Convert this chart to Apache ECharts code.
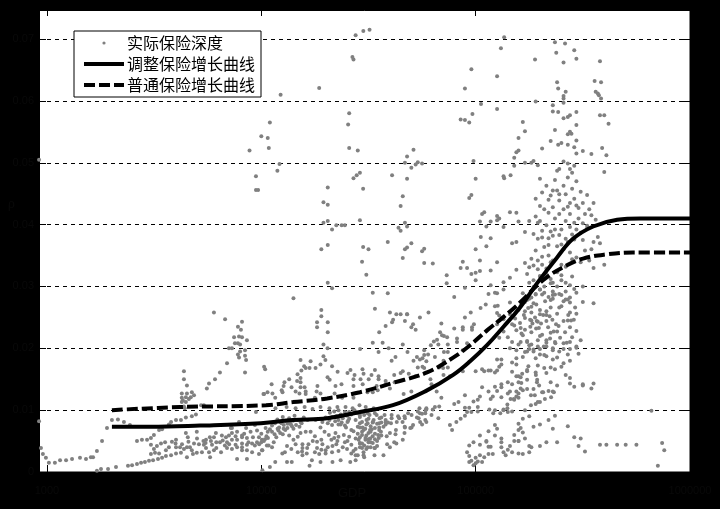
<!DOCTYPE html>
<html><head><meta charset="utf-8">
<script src="https://cdn.jsdelivr.net/npm/echarts@6/dist/echarts.min.js"></script>
<style>html,body{margin:0;padding:0;background:#000}#c{width:720px;height:509px}</style>
</head><body><div id="c"></div>
<script>
// All points: [log10(GDP), depth in thousandths]
const leftTail=[[2.963,8.2],[2.972,3.9],[2.981,2.9],[2.995,2.3],[3.009,1.5],[3.037,1.5],[3.061,1.9],[3.089,1.9],[3.117,2.1],[3.154,2.3],[3.182,2.1],[3.205,2.4],[3.215,2.4],[3.233,3.4],[3.257,5],[3.28,7.1],[3.303,8.4],[3.331,8.5],[3.359,8.1],[3.387,7.6],[3.233,.2],[3.252,.5],[3.285,.5],[3.322,.8],[3.378,1],[3.397,1.1],[3.42,1.3],[3.439,1.5],[3.457,1.6],[3.476,1.8],[3.495,1.9],[3.518,2.1],[3.537,2.3],[3.555,2.6],[3.579,2.7],[2.963,50.5]];
const leftCloud=[[3.779,25.8],[3.831,24.7],[3.891,23.5],[3.91,24.3],[3.905,23],[3.873,21.8],[3.896,21.9],[3.91,21.8],[3.933,21.3],[3.877,20.8],[3.891,20.8],[3.901,20.6],[3.849,20],[3.863,20],[3.901,19.5],[3.924,19.7],[3.891,19],[3.896,18.5],[3.924,18.8],[3.929,18.1],[3.84,17.6],[3.807,16.1],[3.924,16.1],[3.784,15],[3.756,14.3],[3.746,13.5],[3.732,10.8],[4.018,16.6],[4.013,12.6],[3.975,9.7],
[3.639,16.3],[3.639,15],[3.653,14],[3.629,12.7],[3.653,12.7],[3.676,12.9],[3.686,12.4],[3.671,12.1],[3.648,12.1],[3.629,12],[3.662,11.8],[3.634,11.6],[3.629,11.3],[3.648,11.3],[3.639,10.6],[3.643,10.3],[3.719,10.8],[3.695,9.3],[3.676,9],[3.648,8.8],[3.625,8.4],[3.602,8.4],[3.579,8.1],[3.569,7.7],[3.537,6.9],[3.523,6.8],[3.648,6.3],[3.657,5.6],[3.699,6.5],[3.42,5],[3.443,5.2],[3.467,5.2],[3.485,5.5],[3.499,6],[3.485,4.4],[3.485,2.9],
[3.532,4.6],[3.551,4.8],[3.513,4.2],[3.499,3.7],[3.555,3.5],[3.504,3.1],[3.523,3],[3.569,4],[3.583,4.9],[3.602,5.2],[3.602,4],[3.621,4],[3.639,3.7],[3.653,4],[3.667,4],[3.686,4.6],[3.709,4.5],[3.732,4.4],[3.676,3.5],[3.681,2.9],[3.653,2.4],[3.699,3.1],[3.723,3.2],[3.742,3.9],[3.625,3.1],[3.602,3],[3.742,5.2],[3.765,5],[3.779,5.6],[3.788,6.3],[3.816,5.9],[3.835,5.6],[3.849,5.9],[3.863,6.3],[3.858,7.1],[3.896,8.1],[3.929,7.1],[3.97,7.6],[3.863,7.1],[3.887,6.5],[3.91,5.9],[3.77,4.4],[3.807,4.8],[3.84,4.8],[3.863,5.2],[3.887,5.2],[3.91,5.6],[3.933,5.5],[3.961,5.6],[3.989,5.6],[4.017,5.3],[3.756,3.2],[3.779,3.5],[3.812,3.2],[3.84,3.9],[3.863,3.7],[3.887,4],[3.91,4],[3.933,4.4],[3.957,4.6],[3.98,4.8],[4.003,5.2],[4.031,5.5],[3.91,3.5],[3.933,3.5],[3.957,3.2],[3.989,2.9],[4.003,3.5],[4.026,4.3],[3.887,2.1],[3.933,2.1],[3.761,2.4]];
const lowerBand=[[4.29,20.6],[4.309,20],[4.29,18.7],[4.299,18.1],[4.52,20.9],[4.566,20.9],[4.66,20.6],[4.594,20],[4.682,19.4],[4.547,19.4],[4.726,18.6],[4.752,18.4],[4.626,18.6],[4.608,18],[4.461,19.9],[4.183,18.1],[4.23,17.9],[4.276,17.4],[4.33,17.1],[4.2,17.1],[4.225,16.8],[4.253,16.8],[4.472,16.6],[4.416,16.5],[4.53,16.5],[4.688,15.9],[4.752,17],[4.848,16.8],[4.65,16],[4.66,16.3],[4.013,17],[4.207,16.8],[4.187,16.4],[4.169,15.8],[4.356,16.2],[4.402,16],[4.435,15.7],[4.477,15.9],[4.514,15.7],[4.547,15.5],[4.62,15.7],[4.72,15.5],[4.789,15],[4.85,15.7],
[4.309,15.3],[4.319,14.9],[4.183,15.2],[4.108,14.5],[4.13,15],[4.167,14.7],[4.183,14.5],[4.048,14.2],[4.374,14.2],[4.43,15],[4.463,15],[4.501,15],[4.547,15],[4.58,14.7],[4.622,14.5],[4.43,13.9],[4.346,13.9],[4.473,14.2],[4.538,13.9],[4.58,14.2],[4.104,13.9],[4.141,13.7],[4.183,13.7],[4.202,13.7],[4.262,13.9],[4.095,13.2],[4.16,13],[4.207,13],[4.258,13],[4.01,12.6],[4.029,12.9],[4.052,12.7],[4.099,12.9],[4.065,12],[4.178,12.7],[4.207,12.6],[4.25,12],[4.276,12.7],[4.342,12.7],[4.377,12],[4.43,12],[4.495,12.9],[4.52,12.9],[4.543,13.2],[4.6,13.5],[4.664,12.6],[4.7,13],[4.794,14.2],[4.818,13],[4.84,12],[4.738,10.3],[4.77,10.3],[4.81,10.5],
[4.066,10.3],[4.118,10.5],[4.16,10.3],[4.202,10.5],[4.239,10.2],[4.276,10.5],[4.318,10.3],[4.355,10.5],[4.393,10.5],[4.426,10.3],[4.458,10.8],[4.487,10.5],[4.524,10.3],[4.41,9.7],[4.435,10],[4.449,9.5],[4.472,9.7],[4.505,9.2],[4.538,9.2],[4.575,9.2],[4.608,9.2],[4.643,8.7],[4.668,9],[4.659,8.1],[4.701,9.2],[4.734,8.7],[4.766,10],[4.794,9.2],[4.826,8.7],[4.608,8.7],[4.632,8.1],[4.58,8.4],[4.552,8.7],[4.524,8.4],[4.491,8.4],[4.44,8.4],[4.402,8.1],[4.36,8.4],[4.318,8.4],[4.285,8.1],[4.253,8.4],[4.216,8.4],[4.183,8.1],[4.134,7.9],[4.095,7.9],[4.123,7.8],[4.143,7.4],[4.15,7],[4.104,7],[4.076,7],[4.05,6.5],[4.112,6.8],[4.088,6.3],[4.062,6.1],[4.024,5.8],[4.0,4.8],[4.058,4.8],[4.034,4.3],[4.05,4],[4.005,3.5],[4.098,3.0],
[4.207,6.5],[4.183,6.3],[4.276,7.2],[4.295,6.5],[4.37,7.7],[4.395,7.2],[4.346,6.3],[4.42,6.8],[4.45,7.3],[4.473,7.2],[4.507,6.8],[4.558,6.5],[4.6,6.3],[4.628,6.8],[4.669,7.3],[4.701,7.2],[4.668,6.3],[4.626,6.1],[4.585,5.8],[4.548,5.5],[4.519,5.8],[4.486,5.5],[4.454,5.2],[4.402,5],[4.355,5],[4.327,5.2],[4.332,4.2],[4.285,4.5],[4.26,3.9],[4.192,4.5],[4.214,3.9],[4.192,3.9],[4.212,3],[4.192,2.7],[4.27,2.9],[4.3,3],[4.33,3.2],[4.36,3.4],[4.4,3.7],[4.43,3.4],[4.477,3.2],[4.528,3.9],[4.587,4.5],[4.62,4.8],[4.6,4],[4.57,2.7],[4.528,2.7],[4.48,2.4],[4.44,1.9],[4.415,1.6],[4.37,1.9],[4.332,1.6],[4.276,1.6],[4.236,1.9],[4.225,1],[4.142,1.6],[4.12,1.6],[4.065,1.6],[4.04,.8],[4.005,.3],[4.508,5.4],[4.54,5],[4.5,4.8],[4.47,4.6],[4.39,4.8],[4.31,4],[4.3,3.5],[4.63,4.6],[4.66,5.2]];
const lowerDense=[[4.064,7.9],[4.075,8.5],[4.083,7.2],[4.09,8],[4.1,8.9],[4.105,7.6],[4.115,8.2],[4.122,7.1],[4.13,8.7],[4.138,7.7],[4.148,8.3],[4.155,9.1],[4.162,7.6],[4.17,8.4],[4.178,7.3],[4.188,7.9],[4.198,8.8],[4.08,6.7],[4.07,5.6],[4.1,6.1],[4.04,6.9],[4.03,6.5],[4.02,7.1],[4.05,7.5],[4.012,5],
[4.32,9.6],[4.33,8.9],[4.34,9.8],[4.35,9],[4.36,10],[4.37,9.3],[4.38,8.7],[4.39,9.7],[4.4,9.1],[4.41,8.6],[4.42,9.3],[4.345,8.2],[4.36,7.7],[4.375,8],[4.39,7.5],[4.405,8.3],[4.33,7.6],[4.31,7.9],[4.3,8.8],
[4.46,8.9],[4.47,8.1],[4.48,9.2],[4.49,7.7],[4.5,8.6],[4.51,7.4],[4.52,8],[4.53,7.1],[4.54,7.8],[4.55,7.2],[4.56,8],[4.57,7.3],[4.58,7.7],[4.47,6.5],[4.485,7],[4.5,6.3],[4.515,6.9],[4.53,6.2],[4.545,6],[4.56,5.9],[4.49,5.9],[4.47,6],[4.46,7.2],[4.45,6.2],[4.43,6.6],[4.44,5.4],[4.46,4.7],[4.48,4.3],[4.5,5.3],[4.52,4.7],[4.54,4.2],[4.51,4],[4.53,5.3],[4.49,3.7],[4.46,4],[4.44,3.7],[4.42,4.4],[4.41,5.7],[4.385,6],[4.36,5.7],[4.34,5.5],[4.315,6],[4.28,5.2],[4.25,5.8],[4.23,6.5],[4.24,5],[4.26,4.9],[4.22,4.5],[4.25,3.2],[4.28,3.6],[4.35,4.5],[4.38,4],[4.42,3],[4.45,2.7],[4.17,5.7],[4.15,5.2],[4.13,5.9],[4.16,4.5],[4.14,3.7],[4.12,4.2],[4.11,3.2],[4.17,3.2],[4.19,3.3],
[3.6,4.6],[3.63,4.5],[3.66,4.9],[3.7,5.4],[3.73,5],[3.76,5.6],[3.79,4.8],[3.82,5.1],[3.85,4.5],[3.88,5.8],[3.92,6.2],[3.95,6.5],[3.98,6.7],[4,6.2],[3.94,4.8],[3.97,4.3],[3.99,4.5],[3.91,4.6],[3.88,4.4],[3.83,4.3],[3.79,3.9],[3.74,4.7]];
const rightEdge=[[4.46,9.2],[4.496,9.5],[4.53,9.5],[4.56,8.8],[4.591,8],[4.605,7.9],[4.638,9],[4.67,8.7],[4.685,9.5],[4.726,8.8],[4.765,9.5],[4.741,8.1],[4.765,8.4],[4.67,7.2],[4.695,7.1],[4.708,7.6],[4.46,7.9],[4.496,7.9],[4.52,8.1],[4.55,7.9],[4.58,8.1],[4.477,6.8],[4.51,6.5],[4.55,6.8],[4.46,5.6],[4.486,5.2],[4.51,4.8],[4.46,4.6],[4.496,4],[4.47,3.9],[4.53,3.9],[4.44,2.7],[4.477,2.7]];
const midBand=[[4.68,25.5],[4.708,23.9],[4.95,25],[4.977,25.8],[5.023,26.5],[5.047,27.1],[5.09,26.8],[5.103,26.9],[4.94,23.4],[4.992,23.9],[4.983,23.4],[4.834,22.6],[4.843,22.1],[4.852,22],[4.9,23.2],[4.94,23],[4.983,23],[4.913,21.6],[4.82,21.4],[4.867,21.8],[4.805,21.1],[4.791,20.5],[4.76,19.7],[4.826,20.6],[4.87,20.6],[4.913,21],[4.96,20.8],[4.94,19.7],[4.87,19.4],[4.852,19.4],[4.76,18.9],[4.778,19],[4.81,18.6],[4.85,18],[4.71,18],[4.74,18.2],[4.77,17.9],[4.73,16.9],[4.76,16.8],[4.83,16.9],[4.87,16.9],[4.88,15.5],[4.94,16.3],[5,16.3],[5.03,16.6],[5.06,16.4],[5.09,16.1],[5.04,16.3],[5.07,16.4],[5.1,16.4],[5.12,17.4],[5.1,18.2],[5.17,17.7],[5.12,18.2],[5.19,17.4],[5.24,16.5],[5.24,14.9],[5.286,14.5],[5.2,15.5],[5.12,14.2],[5.15,14.5],[5.17,16.2],[5.11,17],
[5.2,14.5],[5.17,14.2],[5.16,13],[5.09,13.8],[5.03,13.7],[5.12,13.7],[5.06,13],[5.1,13.1],[5.15,12.7],[5.02,12.2],[5.01,11.7],[4.95,12.4],[5.08,12.2],[5.12,12.1],[5.19,13],[5.2,12],[5.22,13.2],[5.24,13.4],[5.27,13.4],[5.31,12.9],[5.34,13.1],[5.33,16],[5.35,14.5],[5.36,13],[5.24,16.3],[5.28,16.1],[5.19,15.5],[5.2,12.7],[5.18,11.7],[5.07,11.8],[4.99,11.4],[5.01,10.5],[4.97,10.4],[4.95,10.4],[4.92,11.3],[4.9,11],[4.83,10.6],[4.8,10.1],[4.77,10.1],[4.73,9.8],[4.75,9.4],[4.77,8.1],[4.75,7.7],[4.74,9.5],[5.17,9.8],[5.15,9.7],[5.09,10],[5.13,10.1],[5.23,10],[5.25,9],[5.22,8.6]];
const rightLower=[[5.246,17.1],[5.217,15.9],[5.21,15.3],[5.213,14.4],[5.21,13.5],[5.19,12.2],[5.178,11.8],[5.163,11.8],[5.148,10.9],[5.258,12.4],[5.276,12.4],[5.29,11.3],[5.3,11.3],[5.323,11.8],[5.352,12.1],[5.365,12.9],[5.38,14],[5.315,12.9],[5.296,14],[5.287,14.9],[5.281,15.7],[5.42,15.7],[5.44,15.2],[5.5,14],[5.55,14.3],[5.54,13.5],[5.258,10.8],[5.28,11],[5.148,10.3],[5.13,10],[5.115,9.5],[5.064,10.1],[5.082,9.5],[5.01,9.8],[4.98,9.7],[4.96,9.7],[4.95,9.1],[4.93,8.6],[4.91,8.1],[4.88,7.6],[4.89,6.8],[5.09,7.6],[5.1,7],[5.06,6.6],[5.05,5],[5.05,4.9],[5.07,4.1],[5.08,2.9],[5.14,2.7],[5.13,3.2],[5.15,3.6],[5.17,3.2],[5.2,3],[5.22,2.9],[5.25,3.2],[5.26,4],[5.3,4.2],[5.38,4.8],[5.33,4.8],[5.2,5],[5.12,4],[5.2,7.8],[5.21,7.1],[5.2,6.8],[5.22,6.4],[5.18,6],[5.18,5],[5.2,5],[5.23,5.4],[5.27,7.3],[5.3,7.7],[5.34,8.4],[5.37,9.1],[5.36,7],[5.43,7.4],[5.46,5.6],[5.49,5.4],[5.48,4.2],[5.51,3.3],[5.58,4.4],[5.61,4.4],[5.66,4.4],[5.7,4.4],[5.75,4.4],[5.82,9.9],[5.87,4.7],[5.88,3.5],[5.85,1],[5.44,14.3],[5.46,13.8],[5.5,14.2],
[4.96,3.2],[4.97,4.3],[4.99,4.8],[5.02,5.9],[5.02,4.4],[5.06,4.1],[5.09,5.9],[5.12,5.4],[5.12,4.8],[5.16,4.2],[5.06,2.9],[4.97,2.6],[4.98,1.8],[5.02,2.7],[5,2.3],[5.01,1.7],[5,1.4],[4.97,1.6],[5.03,1.6],[5.04,2.4],[4.99,1.1],[5.25,4.2]];
const centerDense=[[5.16,25.5],[5.17,23.9],[5.184,24.8],[5.19,22.9],[5.2,26.2],[5.207,24.1],[5.214,22.4],[5.225,25.4],[5.23,23],[5.24,21.2],[5.245,26.5],[5.254,24.6],[5.26,22.6],[5.27,27.3],[5.277,25],[5.282,23.2],[5.29,21.3],[5.3,26.2],[5.305,24],[5.31,22.2],[5.318,20.3],[5.324,27.6],[5.33,25.4],[5.338,23.4],[5.347,21.6],[5.35,26.6],[5.358,24.6],[5.364,22.7],[5.372,20.8],[5.38,25.6],[5.387,23.6],[5.394,21.7],[5.4,26.8],[5.41,24.4],[5.417,22.6],[5.425,20.9],[5.432,25.4],[5.44,23.4],[5.45,21.8],[5.458,24.6],[5.464,26.6],[5.47,22.8],[5.28,28.7],[5.3,29.5],[5.32,29],[5.34,28.3],[5.36,28],[5.39,28.8],[5.41,27.6],[5.43,27.9],[5.26,26.7],[5.25,28],[5.23,27.5],[5.22,28.9],[5.265,24],[5.295,23.3],[5.33,24.4],[5.375,23.9],[5.345,25.2],[5.315,25.4],[5.285,24.4],[5.255,23.5],[5.23,24.9],[5.35,22.5],[5.38,22.7],[5.33,20.9],[5.36,20],[5.3,19.9],[5.27,19.8],[5.24,19.5],[5.41,19.9],[5.44,19.9],[5.47,20.1],[5.2,20.6],[5.17,21],[5.15,21.8],[5.13,22.7],[5.11,21.7],[5.1,25.7],[5.16,20],[5.19,19.7],[5.3,31.6],[5.27,31],[5.33,32],[5.36,30.6],[5.24,32],[5.4,31.8],[5.42,30.6],[5.29,32.8],[5.31,33.5],[5.26,34.5],[5.23,33.8],[5.19,32.7],[5.16,31.4],[5.13,30.7]];
const upperDense=[[5.33,46.3],[5.35,44.7],[5.37,47.2],[5.38,45.5],[5.39,43.9],[5.41,46.3],[5.42,44.9],[5.43,47.6],[5.44,43.5],[5.45,45.8],[5.46,44.2],[5.47,47],[5.48,42.7],[5.49,45.3],[5.5,43.5],[5.52,44.8],[5.53,42.5],[5.54,41.5],[5.55,43.5],[5.3,43],[5.32,42.5],[5.34,41.9],[5.36,42.8],[5.37,41],[5.39,41.7],[5.41,42.5],[5.42,40.6],[5.44,41.7],[5.46,40.3],[5.48,41],[5.5,40.2],[5.52,39.4],[5.33,39.9],[5.35,38.9],[5.37,39.2],[5.39,38.3],[5.34,37.8],[5.3,40.6],[5.28,41.3],[5.31,39],[5.29,37.7],[5.4,36.8],[5.43,37.2],[5.45,38.4],[5.47,39.2],[5.39,44.9],[5.36,45.5],[5.43,42.9],[5.47,43.1],[5.34,44],[5.31,45.2],[5.28,44.2],[5.3,47.4],[5.51,41.7],[5.56,40.8],[5.46,49.5],[5.43,49.9],[5.41,50.2],[5.38,48.7]];
const upperCluster=[[5.16,27.4],[5.21,26.9],[5.283,27.1],[5.33,26],[5.39,26.6],[5.47,25.6],[5.44,25.8],[5.43,24.5],[5.55,27.3],[5.5,27.5],[5.445,24.5],[5.36,28.6],[5.3,25.5],[5.29,24.3],[5.26,25.8],[5.26,24.5],[5.23,26],[5.13,24.7],[5.11,25.3],[5.1,23.9],[5.18,23.7],[5.21,23.3],[5.22,22.1],[5.24,21],[5.3,22],[5.33,21.3],[5.37,21],[5.41,20.8],[5.44,21],[5.49,21.3],[5.47,20.3],[5.21,21],[5.25,20.5],[5.29,20.3],[5.33,20.3],[5.36,19.7],[5.27,19.5],[5.39,19.5],[5.43,19],[5.48,19.1],[5.3,19],[5.33,18.7],[5.36,18.2],[5.26,20.6],[5.23,19.4],[5.28,18.4],[5.32,18.9],[5.38,18.5],[5.41,17.6],[5.4,17],[5.37,16.6],[5.32,16.8],[5.29,17.2],[5.35,16.9],[5.44,18],[5.25,19.9],[5.22,18.6],[5.19,18.4],
[5.35,30.5],[5.32,30],[5.4,31],[5.44,30.2],[5.46,29.6],[5.5,30],[5.42,29.2],[5.38,30],[5.36,29.2],[5.3,29.5],[5.27,29.9],[5.25,30.6],[5.28,28.8],[5.31,28.7],[5.37,28.7],[5.4,28.6],[5.44,28.2],[5.35,27.8],[5.42,27.9],[5.47,29],[5.26,28.2],[5.24,27.8],[5.44,27.4]];
const upperMid=[[5.163,48],[5.133,47.5],[4.99,50.3],[4.98,44.8],[4.97,44.3],[5.05,39.7],[5.024,38],[5.07,37.8],[5.05,36.5],[5.0,36],[5.02,34.2],[5.02,32.5],[5.1,33.9],[4.96,33],[4.98,32],[4.95,29.8],[5.0,32.2],[5.07,32.6],[5.07,30.2],[5.09,29],[5.0,31],[5.06,28.8],[5.1,28.9],[5.13,29.5],[4.94,34],[4.93,33],[4.865,31.8],[4.865,30.5],[4.9,28.3],[4.7,37],[4.75,35.7],[4.67,36],[4.66,34.6],
[5.16,42],[5.19,41.9],[5.1,41.4],[5.11,41],[5.1,40.7],[5.13,39.6],[5.2,40.5],[5.25,40.6],[5.29,40.3],[5.04,42],[5.02,40.5],[5.17,37],[5.07,40.5],[5.03,41.7],[5.23,38.8],[5.27,38.5],[5.31,37.9],[5.19,37.2],[5.4,39.2],[5.44,39.6],[5.49,38.7],[5.52,39.8],[5.36,38.2],[5.46,37.6],[5.42,37.7],[5.5,37.5],[5.55,37.2],[5.57,38],[5.58,37],[5.34,36.7],[5.38,36.5],[5.32,36.4],[5.41,36],[5.28,35.8],[5.34,35],[5.44,35.5],[5.31,34.8],[5.36,34.2],[5.51,35.8],[5.54,36],[5.47,34.7],[5.29,34.2],[5.35,33.9],[5.4,33.5],[5.45,34.4],[5.49,33.9],[5.53,34.2],[5.27,33.4],[5.25,33.1],[5.33,32.9],[5.42,33.2],[5.38,32.3],[5.45,31.6],[5.55,33],[5.6,33.5],[5.3,31.7],[5.35,31.2]];
const topCloud=[[5.133,70.3],[5.118,68.5],[5.37,69.5],[5.417,69.3],[5.46,68.2],[5.376,67.8],[5.277,66.7],[5.47,66.8],[5.41,66.2],[5.58,66.4],[4.98,65.1],[5.1,64],[5.38,63],[5.555,63.2],[5.585,63],[4.95,62],[5.385,62],[5.42,61.5],[5.56,61.5],[5.57,61.2],[5.575,60.9],[5.41,60.8],[5.41,60.4],[5.585,60.4],[5.28,59.9],[5.41,59.7],[5.36,59.3],[5.025,59.5],[5.1,58.7],[5.36,58.3],[5.385,58.2],[5.47,58.2],[5.58,57.7],[5.6,57.7],[4.985,57.9],[5.44,57.7],[5.43,57.4],[5.41,57.2],[4.93,57.0],[4.95,56.9],[4.97,56.5],[5.22,56.6],[5.47,56.1],[5.62,56.3],[5.37,55.3],[5.23,55.1],[5.44,55.0],[5.447,54.7],[5.43,54.6],[5.2,54],[5.35,53.5],[5.47,53.6],[5.4,53.2],[5.385,52.9],[5.43,52.9],[5.46,52.5],[5.31,52.3],[5.59,52.4],[4.71,52.1],[5.2,52],[5.19,51.7],[5.5,51.9],[5.47,51.5],[5.54,51.4],[4.68,51],[5.18,50.8],[5.61,51.2],[5.23,50],[4.67,50],[4.72,49.7],[4.75,49.9],[5.29,49.6],[4.7,49.2],[5.26,50],[5.27,50.3],[5.18,49.5],[5.39,49],[5.44,49],[5.45,48.4],[4.61,48],[4.68,47.4],[5.13,47.8],[5.0,47.4],[5.6,48.5]];
const outliers=[[4.44,70.6],[4.476,71.3],[4.505,71.5],[4.425,67.1],[4.43,66.7],[4.27,62.1],[4.09,61],[4.41,58],[4.04,56.5],[4.405,56.2],[4.0,54.3],[4.03,54],[4.41,52.4],[4.45,52],[4.035,52.4],[3.945,52],[4.085,49.8],[4.075,48.7],[3.975,47.8],[4.46,48.4],[4.445,48],[4.43,47.5],[4.31,46],[4.475,45.8],[3.975,45.6],[3.985,45.6],[4.73,50.1],[4.29,43.6],[4.31,43.2],[4.66,44.6],[4.65,43],[4.29,40.3],[4.31,40.6],[4.35,39.9],[4.375,39.9],[4.39,39.9],[4.46,40.7],[4.67,40.3],[4.64,39.5],[4.68,39.7],[4.65,39],[4.33,39.2],[4.31,36.7],[4.28,36],[4.475,36.4],[4.5,36],[4.59,37.2],[4.68,36.3],[4.76,36.1],[4.47,34],[4.8,33.7],[4.76,33.8],[4.49,31.9],[4.31,30.6],[4.33,29.7],[4.52,29],[4.59,28.9],[4.15,28.1],[4.28,26.2],[4.53,26.4],[4.6,25.8],[4.63,25.5],[4.78,25.8],[4.28,25.2],[4.65,25.5],[4.68,25.5],[4.615,24.6],[4.74,25],[4.26,24.2],[4.31,24.2],[4.61,24.2],[4.67,24.4],[4.84,24],[4.26,23.4],[4.58,23.6],[4.7,23.4],[4.72,23],[4.31,22.6],[4.55,22.6]];
const adjustedLog=[3.303,3.481,3.714,3.998,4.148,4.307,4.46,4.614,4.773,4.895,4.974,5.053,5.128,5.207,5.286,5.38,5.454,5.548,5.66,5.767,6];
const adjustedDepth=[7.3,7.3,7.5,7.9,8.4,8.7,9.7,10.8,13.2,15.7,17.9,20.5,23.4,26.6,30.5,34.7,37.7,39.7,40.8,41,41];
const ordinaryLog=[3.303,3.62,4.022,4.148,4.307,4.46,4.614,4.773,4.895,4.974,5.053,5.128,5.207,5.314,5.407,5.501,5.613,5.734,6];
const ordinaryDepth=[10,10.5,10.8,11.3,11.9,12.9,14.4,16.1,18.5,20.5,22.9,25,27.4,31,33.1,34.5,35.2,35.5,35.5];
const xTicks=[1000,10000,100000,1000000];
const yTicks=[0,0.01,0.02,0.03,0.04,0.05,0.06,0.07];
const legendNames=['实际保险深度','调整保险增长曲线','普通保险增长曲线'];

const allPoints=[].concat(leftTail,leftCloud,lowerBand,lowerDense,rightEdge,midBand,rightLower,centerDense,upperDense,upperCluster,upperMid,topCloud,outliers);
const toPoint=p=>[Math.pow(10,p[0]),p[1]/1000];
const dim='#090909';
const chart=echarts.init(document.getElementById('c'),null,{renderer:'canvas'});
const xBase={type:'log',min:918,max:1000000,splitLine:{show:false},minorTick:{show:false},
  axisLine:{show:true,onZero:false,lineStyle:{color:'#000'}}};
const yBase={type:'value',min:0,max:0.0747,interval:0.01,axisLine:{show:true,lineStyle:{color:'#000'}}};
const noIcon={opacity:0,color:'transparent',borderWidth:0};
chart.setOption({
  animation:false,backgroundColor:'#000',
  grid:{left:39,right:30,top:10,bottom:37,show:true,backgroundColor:'#fff',borderColor:'#000'},
  xAxis:[
    Object.assign({},xBase,{position:'bottom',axisTick:{inside:true,length:7,customValues:xTicks,lineStyle:{color:'#000'}},
      axisLabel:{customValues:xTicks,color:dim,fontSize:11,margin:13,fontFamily:'Liberation Sans',formatter:v=>String(Math.round(v))}}),
    Object.assign({},xBase,{position:'top',axisTick:{inside:true,length:6,customValues:xTicks,lineStyle:{color:'#000'}},axisLabel:{show:false}})
  ],
  yAxis:[
    Object.assign({},yBase,{position:'left',axisTick:{inside:true,length:7,customValues:yTicks,lineStyle:{color:'#000'}},
      axisLabel:{customValues:yTicks,color:dim,fontSize:11,margin:5,fontFamily:'Liberation Sans',formatter:v=>String(+v.toFixed(2))},
      splitLine:{show:true,lineStyle:{color:'#000',type:[4,4],width:1}}}),
    Object.assign({},yBase,{position:'right',axisTick:{inside:true,length:7,customValues:yTicks,lineStyle:{color:'#000'}},axisLabel:{show:false},splitLine:{show:false}})
  ],
  legend:{show:true,left:74,top:31,orient:'vertical',itemWidth:40,itemHeight:12,itemGap:5,padding:[4,6,4,8],
    backgroundColor:'#fff',borderColor:'#000',borderWidth:1,borderRadius:0,
    lineStyle:{width:4},
    textStyle:{color:'#000',fontSize:16,fontFamily:'Noto Sans CJK SC',padding:[0,0,0,-2]},
    data:[{name:legendNames[0],icon:'path://M0 0L.01 0L0 .01ZM40 12L39.99 12L40 11.99ZM18.4 6a1.6 1.6 0 1 0 3.2 0a1.6 1.6 0 1 0 -3.2 0Z'},{name:legendNames[1],itemStyle:noIcon},{name:legendNames[2],itemStyle:noIcon}]},
  graphic:[
    {type:'text',left:8,top:199,style:{text:'ρ',fill:dim,fontSize:12,fontFamily:'Liberation Sans'}},
    {type:'text',left:338,top:487,style:{text:'GDP',fill:dim,fontSize:13,fontFamily:'Liberation Sans'}}
  ],
  series:[
    {name:legendNames[0],type:'scatter',symbol:'circle',symbolSize:4,data:allPoints.map(toPoint),itemStyle:{color:'#808080',opacity:1},z:2,silent:true},
    {name:legendNames[1],type:'line',showSymbol:false,symbol:'none',smooth:0.4,data:adjustedLog.map((v,i)=>toPoint([v,adjustedDepth[i]])),lineStyle:{color:'#000',width:4},itemStyle:{color:'#000'},z:3},
    {name:legendNames[2],type:'line',showSymbol:false,symbol:'none',smooth:0.4,data:ordinaryLog.map((v,i)=>toPoint([v,ordinaryDepth[i]])),lineStyle:{color:'#000',width:4,type:[11,4]},itemStyle:{color:'#000'},z:3}
  ]
});
</script></body></html>
